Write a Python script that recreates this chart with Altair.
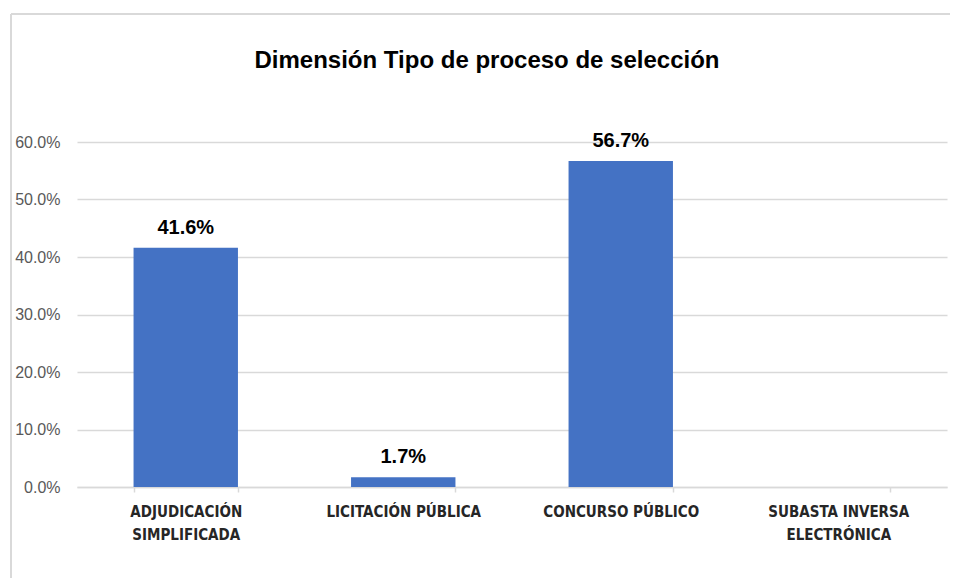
import altair as alt
import pandas as pd

categories = ["ADJUDICACIÓN SIMPLIFICADA", "LICITACIÓN PÚBLICA", "CONCURSO PÚBLICO", "SUBASTA INVERSA ELECTRÓNICA"]
values = [0.416, 0.017, 0.567, 0.0]
label_texts = ["41.6%", "1.7%", "56.7%", ""]
label_lines = {
    "ADJUDICACIÓN SIMPLIFICADA": ["ADJUDICACIÓN", "SIMPLIFICADA"],
    "LICITACIÓN PÚBLICA": ["LICITACIÓN PÚBLICA"],
    "CONCURSO PÚBLICO": ["CONCURSO PÚBLICO"],
    "SUBASTA INVERSA ELECTRÓNICA": ["SUBASTA INVERSA", "ELECTRÓNICA"],
}
y_ticks = [0, 0.1, 0.2, 0.3, 0.4, 0.5, 0.6]

df = pd.DataFrame({"cat": categories, "val": values, "lab": label_texts})

expr_parts = []
for k, v in label_lines.items():
    arr = "[" + ",".join("'" + s + "'" for s in v) + "]"
    expr_parts.append(f"datum.label == '{k}' ? {arr}")
label_expr = " : ".join(expr_parts) + " : datum.label"

x = alt.X("cat:N", sort=categories, title=None,
          scale=alt.Scale(paddingInner=0.52, paddingOuter=0.26),
          axis=alt.Axis(labelAngle=0, labelExpr=label_expr, labelFont="DejaVu Sans Condensed",
                        labelFontSize=15, labelColor="#262626", labelFontWeight="bold",
                        labelPadding=12, labelLineHeight=23, labelLimit=300,
                        domainColor="#d9d9d9", domainWidth=1.5, tickColor="#d9d9d9",
                        tickBand="extent", tickSize=5, tickWidth=1.5, grid=False))

y = alt.Y("val:Q", title=None,
          scale=alt.Scale(domain=[0, 0.6], nice=False),
          axis=alt.Axis(values=y_ticks, format=".1%", labelFont="Liberation Sans",
                        labelFontSize=16, labelColor="#595959", labelPadding=17,
                        domain=False, ticks=False, grid=True, gridColor="#d9d9d9",
                        gridWidth=1.5))

border_top = alt.Chart(df).mark_rule(stroke="#d9d9d9", strokeWidth=1.5, clip=False).encode(
    x=alt.value(-66), x2=alt.value(1000), y=alt.value(-128)
)
border_left = alt.Chart(df).mark_rule(stroke="#d9d9d9", strokeWidth=1.5, clip=False).encode(
    x=alt.value(-66), y=alt.value(-128), y2=alt.value(700)
)

bars = alt.Chart(df).mark_bar(color="#4472C4").encode(x=x, y=y)

text = alt.Chart(df).mark_text(dy=-10, baseline="bottom", font="Liberation Sans",
                               fontSize=20, fontWeight="bold", color="#000000").encode(
    x=alt.X("cat:N", sort=categories), y="val:Q", text="lab:N")

chart = alt.layer(border_top, border_left, bars, text).properties(
    width=870, height=345,
    padding={"left": 69, "top": 134, "right": 3, "bottom": 91},
    autosize=alt.AutoSizeParams(type="none"),
    background="white",
    title=alt.TitleParams("Dimensión Tipo de proceso de selección", font="Liberation Sans",
                          fontSize=24, fontWeight="bold", color="#000000",
                          anchor="middle", frame="group", dx=-25, offset=-79,
                          baseline="alphabetic"),
).configure(
    view=alt.ViewConfig(strokeWidth=0, stroke="transparent", strokeOpacity=0),
    style={"cell": {"stroke": "transparent", "strokeWidth": 0}},
)

chart.save("out.html", embed_options={"renderer": "svg", "actions": False})
